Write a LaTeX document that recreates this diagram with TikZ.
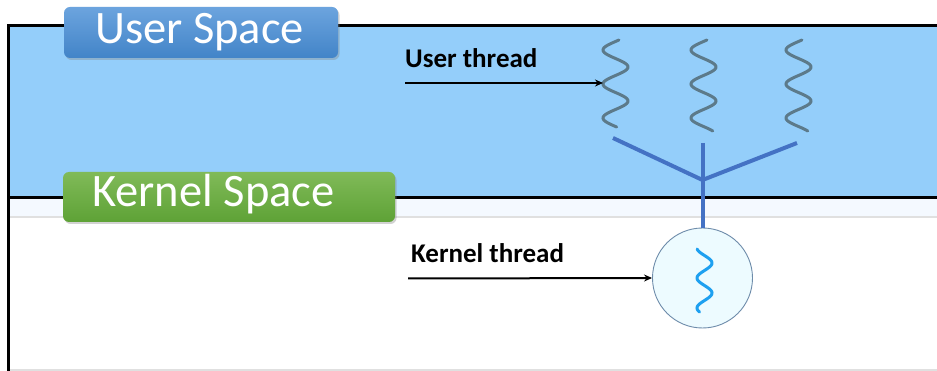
\documentclass[tikz,border=0pt]{standalone}
\usepackage{fontspec}
\setmainfont{Carlito}
\usetikzlibrary{arrows.meta,shadows}
\definecolor{userfill}{RGB}{148,206,250}
\definecolor{bandfill}{RGB}{244,249,255}
\definecolor{squiggray}{RGB}{92,122,138}
\definecolor{treeblue}{RGB}{68,114,196}
\definecolor{circfill}{RGB}{237,251,255}
\definecolor{circline}{RGB}{110,140,170}
\definecolor{kblue}{RGB}{30,160,240}
\definecolor{ubtop}{RGB}{108,164,222}
\definecolor{ubbot}{RGB}{66,132,200}
\definecolor{kbtop}{RGB}{128,186,88}
\definecolor{kbbot}{RGB}{94,162,54}
\tikzset{
  badge/.style={rounded corners=6pt, drop shadow={shadow xshift=1.5pt, shadow yshift=-2pt, opacity=0.35}},
  badgetext/.style={anchor=base west, inner sep=0pt, text=white, font=\fontsize{46.5}{46.5}\selectfont},
  lbl/.style={anchor=base west, inner sep=0pt, font=\bfseries\fontsize{27}{27}\selectfont},
  ptr/.style={-{Stealth[length=8pt,width=7pt]}, line width=2pt},
  uthread/.style={draw=squiggray, line width=3pt, line cap=round},
  tree/.style={draw=treeblue, line width=4pt},
}
\begin{document}
\begin{tikzpicture}[x=1pt,y=-1pt]
\useasboundingbox (0,0) rectangle (937,371);
\fill[white] (0,0) rectangle (937,371);
% user space area
\fill[userfill] (10,27) rectangle (937,197);
% band below divider
\fill[bandfill] (10,199) rectangle (937,216.5);
\draw[black!12, line width=2pt] (10,217.5) -- (937,217.5);
\draw[black!12, line width=1.5pt] (10,370.2) -- (937,370.2);
% frame
\draw[black, line width=3pt] (937,25.5) -- (8.5,25.5) -- (8.5,371);
\draw[black, line width=3pt] (10,198) -- (937,198);
% badges
\path[badge, top color=ubtop, bottom color=ubbot] (64,7) rectangle (338,58);
\node[badgetext] (us) at (95,43.5) {User Space};
\path[badge, top color=kbtop, bottom color=kbbot] (63,172) rectangle (395,222);
\node[badgetext] (ks) at (92,207) {Kernel Space};
% user threads
\foreach \cx/\nm/\ye in {615.5/u1/127, 703.5/u2/131, 798.5/u3/131}{
  \draw[uthread] plot[domain=0:\ye-40, samples=90, variable=\t] ({\cx - 12.5*sin(10.588*(\t-1.5))}, {\t+40});
  \coordinate (\nm) at (\cx,84);
}
\coordinate (ut) at (603,83);
% tree
\coordinate (j) at (702.5,180);
\coordinate (bl) at (613,138);
\coordinate (bm) at (702.5,143);
\coordinate (br) at (797,143);
% kernel thread circle
\node[circle, draw=circline, line width=0.9pt, fill=circfill, minimum size=100pt, inner sep=0pt] (kt) at (702.5,278) {};
\draw[tree] (bl) -- (j) -- (br);
\draw[tree] (bm) -- (kt.north);
\draw[draw=kblue, line width=3pt, line cap=round] plot[domain=0:63, samples=80, variable=\t] ({704.5 + 7.5*sin(12*(\t-6.5))}, {\t+249});
% labels and arrows
\node[lbl] (ul) at (405,68) {User thread};
\coordinate (ua) at (405,83);
\draw[ptr] (ua) -- (ut);
\node[lbl] (kl) at (411,263) {Kernel thread};
\coordinate (ka) at (408,278.5);
\draw[ptr] (ka) -- (kt.west);
\end{tikzpicture}
\end{document}
